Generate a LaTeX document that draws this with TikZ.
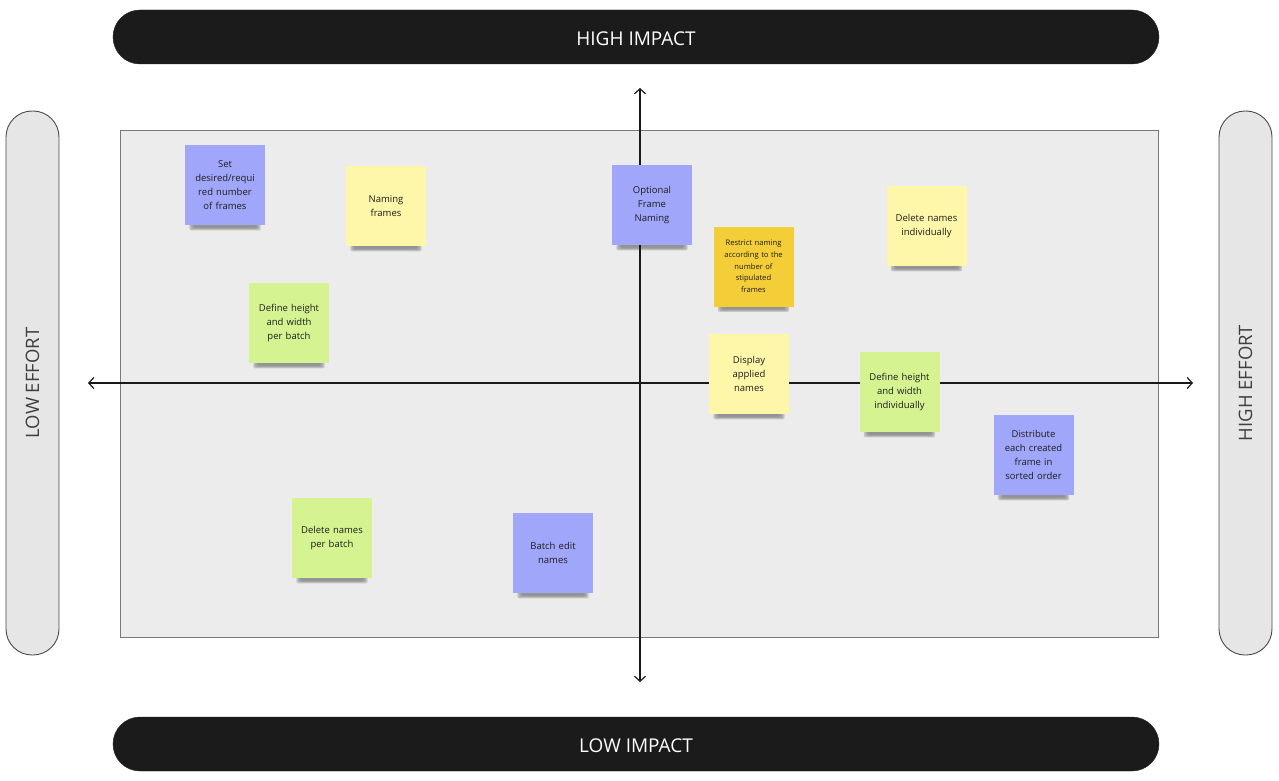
\documentclass[tikz,border=0pt]{standalone}
\usepackage{fontspec}
\setmainfont{Open Sans}
\usetikzlibrary{arrows.meta}
\definecolor{barblack}{HTML}{1B1B1B}
\definecolor{pillgray}{HTML}{E6E6E6}
\definecolor{pillline}{HTML}{4A4A4A}
\definecolor{areagray}{HTML}{ECECEC}
\definecolor{arealine}{HTML}{7A7A7A}
\definecolor{noteblue}{HTML}{A0A6FA}
\definecolor{noteyellow}{HTML}{FEF6A8}
\definecolor{notegreen}{HTML}{D6F391}
\definecolor{noteorange}{HTML}{F4CE38}
\definecolor{notetext}{HTML}{1E1E1E}
\pgfdeclarelayer{bg}
\pgfsetlayers{bg,main}
\tikzset{
  x=1pt, y=-1pt,
  bar/.style={fill=barblack, draw=barblack, rounded corners=27pt, minimum width=1046pt, minimum height=54pt, inner sep=0pt, text=white, text height=17.6pt, text depth=0pt, font=\fontsize{19}{21}\selectfont},
  pill/.style={fill=pillgray, draw=pillline, line width=0.9pt, rounded corners=26pt, minimum width=53pt, minimum height=544pt, inner sep=0pt},
  pilltext/.style={rotate=90, text=pillline!85!black, font=\fontsize{18.5}{21}\selectfont, inner sep=0pt},
  note/.style={minimum width=80pt, minimum height=80pt, inner sep=0pt, text width=72pt, align=center, text=notetext, font=\fontsize{9.5}{14}\selectfont},
  small note/.style={note, font=\fontsize{7.6}{11.7}\selectfont},
  axis/.style={line width=1.2pt, draw=black!90, {Straight Barb[length=5pt,width=11pt]}-{Straight Barb[length=5pt,width=11pt]}},
}
\newcommand{\notesh}[2]{%
  \foreach \o/\d in {0.06/6,0.09/4.5,0.12/3,0.16/1.5}{
    \fill[black, opacity=\o, rounded corners=2pt] ([xshift=\d pt+3pt, yshift=\d*0.6pt]#1) rectangle ([xshift=-\d pt-3pt, yshift=-6pt+\d*0.6pt]#2);
  }%
}
\begin{document}
\begin{tikzpicture}
\useasboundingbox (0,0) rectangle (1279,781);
% area
\begin{pgfonlayer}{bg}
\node[fill=areagray, draw=arealine, line width=0.8pt, minimum width=1038pt, minimum height=507pt, inner sep=0pt] (area) at (639,383.5) {};
\end{pgfonlayer}
% bars
\node[bar] (hi) at (636,37) {HIGH IMPACT};
\node[bar] (lo) at (636,744) {LOW IMPACT};
\node[pill] (le) at (32.5,383) {};
\node[pilltext] (let) at (le.center) {LOW EFFORT};
\node[pill] (he) at (1245.5,383) {};
\node[pilltext] (het) at (he.center) {HIGH EFFORT};
% axes
\coordinate (top) at (640,88);
\coordinate (bot) at (640,682);
\coordinate (lft) at (88,383);
\coordinate (rgt) at (1193,383);
\draw[axis] (bot) -- (top);
\draw[axis] (lft) -- (rgt);
% notes
\node[note, fill=noteblue] (n1) at (225,185) {Set\\desired/requi\\red number\\of frames};
\node[note, fill=noteyellow] (n2) at (386,206) {Naming\\frames};
\node[note, fill=notegreen] (n3) at (289,323) {Define height\\and width\\per batch};
\node[note, fill=noteblue] (n4) at (652,205) {Optional\\Frame\\Naming};
\node[small note, fill=noteorange] (n5) at (753.5,266.5) {Restrict naming\\according to the\\number of\\stipulated\\frames};
\node[note, fill=noteyellow] (n6) at (926.5,226) {Delete names\\individually};
\node[note, fill=noteyellow] (n7) at (749,374) {Display\\applied\\names};
\node[note, fill=notegreen] (n8) at (899.5,392) {Define height\\and width\\individually};
\node[note, fill=noteblue] (n9) at (1033.5,455) {Distribute\\each created\\frame in\\sorted order};
\node[note, fill=notegreen] (n10) at (332,538) {Delete names\\per batch};
\node[note, fill=noteblue] (n11) at (553,553) {Batch edit\\names};
\begin{pgfonlayer}{bg}
\foreach \n in {n1,n2,n3,n4,n5,n6,n7,n8,n9,n10,n11}{\notesh{\n.south west}{\n.south east}}
\end{pgfonlayer}
\end{tikzpicture}
\end{document}
